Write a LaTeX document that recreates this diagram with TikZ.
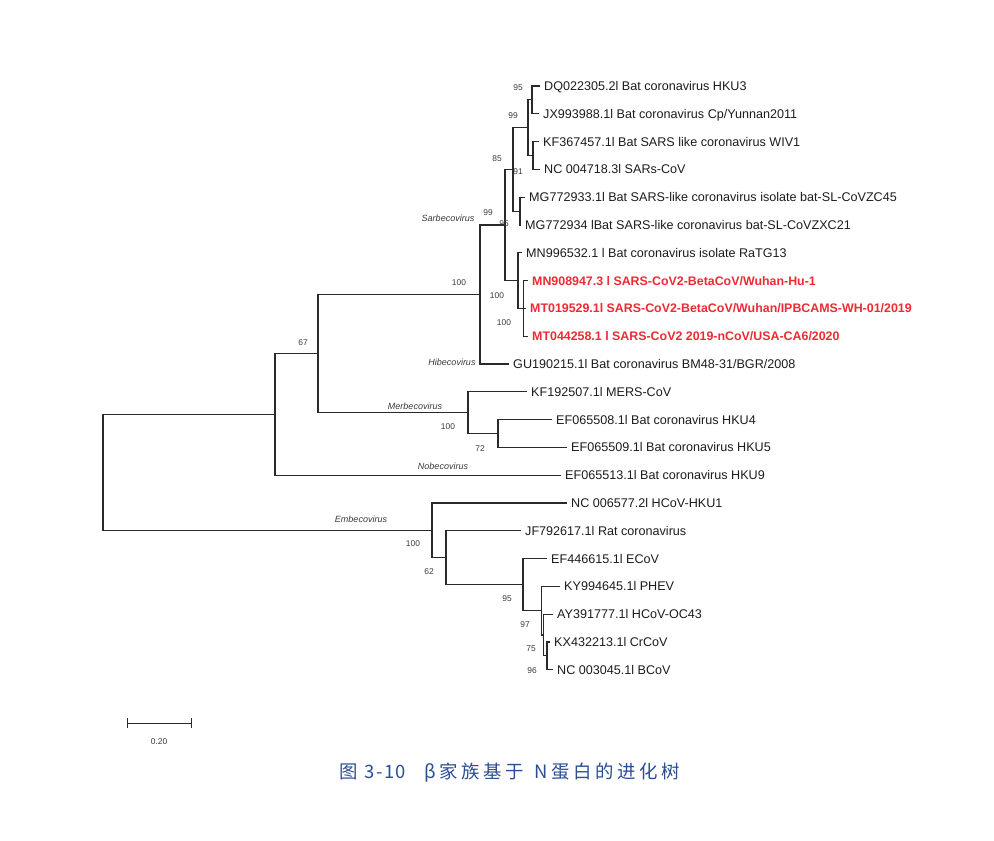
\documentclass[tikz,border=0pt]{standalone}
\usepackage{fontspec}
\setmainfont{Liberation Sans}
\newfontfamily\capfont{Noto Sans CJK SC}[LetterSpace=20]
\usepackage{xcolor}
\usepackage{tikz}
\usetikzlibrary{positioning}
\definecolor{ptInk}{HTML}{2A2A2A}
\definecolor{ptText}{HTML}{1C1C1C}
\definecolor{ptMuted}{HTML}{3A3A3A}
\definecolor{ptRed}{HTML}{EC2B33}
\definecolor{ptBlue}{HTML}{2B4D94}
\tikzset{
  pt tree/.style={x=1pt, y=-1pt, text=ptText,
    font=\fontsize{12.6}{14}\selectfont},
  pt branch/.style={draw=ptInk, line width=1.1pt, line cap=rect},
  pt leaf/.style={anchor=west, inner xsep=5pt, inner ysep=0pt,
    text height=9pt, text depth=0pt},
  pt key leaf/.style={pt leaf, text=ptRed,
    font=\fontsize{12.4}{14}\selectfont\bfseries},
  pt support/.style={font=\fontsize{8.4}{10}\selectfont, text=ptMuted,
    inner sep=0pt},
  pt clade/.style={pt support, font=\fontsize{9}{10}\selectfont\itshape},
  pt caption/.style={font=\capfont\fontsize{18.4}{20}\selectfont,
    text=ptBlue, inner sep=0pt}
}
\begin{document}
\begin{tikzpicture}[pt tree]
\useasboundingbox (0,0) rectangle (994,841);
% leaves
\node[pt leaf] (hku3) at (539,86) {DQ022305.2l Bat coronavirus HKU3};
\node[pt leaf] (cpyn) at (538,113.8) {JX993988.1l Bat coronavirus Cp/Yunnan2011};
\node[pt leaf] (wiv1) at (538,141.6) {KF367457.1l Bat SARS like coronavirus WIV1};
\node[pt leaf] (sars) at (539,169.4) {NC 004718.3l SARs-CoV};
\node[pt leaf] (zc45) at (524,197.2) {MG772933.1l Bat SARS-like coronavirus isolate bat-SL-CoVZC45};
\node[pt leaf] (zxc21) at (520,225) {MG772934 lBat SARS-like coronavirus bat-SL-CoVZXC21};
\node[pt leaf] (ratg13) at (521,252.8) {MN996532.1 l Bat coronavirus isolate RaTG13};
\node[pt key leaf] (wuhan1) at (527,280.6) {MN908947.3 l SARS-CoV2-BetaCoV/Wuhan-Hu-1};
\begin{scope}
\clip (0,0) rectangle (916,841);
\node[pt key leaf] (wh01) at (525,308.4) {MT019529.1l SARS-CoV2-BetaCoV/Wuhan/IPBCAMS-WH-01/2019};
\end{scope}
\node[pt key leaf] (ca6) at (527,336.2) {MT044258.1 l SARS-CoV2 2019-nCoV/USA-CA6/2020};
\node[pt leaf] (bm48) at (508,364) {GU190215.1l Bat coronavirus BM48-31/BGR/2008};
\node[pt leaf] (mers) at (526,391.8) {KF192507.1l MERS-CoV};
\node[pt leaf] (hku4) at (551,419.6) {EF065508.1l Bat coronavirus HKU4};
\node[pt leaf] (hku5) at (566,447.4) {EF065509.1l Bat coronavirus HKU5};
\node[pt leaf] (hku9) at (560,475.2) {EF065513.1l Bat coronavirus HKU9};
\node[pt leaf] (hku1) at (566,503) {NC 006577.2l HCoV-HKU1};
\node[pt leaf] (rat) at (520,530.8) {JF792617.1l Rat coronavirus};
\node[pt leaf] (ecov) at (546,558.6) {EF446615.1l ECoV};
\node[pt leaf] (phev) at (559,586.4) {KY994645.1l PHEV};
\node[pt leaf] (oc43) at (552,614.2) {AY391777.1l HCoV-OC43};
\node[pt leaf] (crcov) at (549,642) {KX432213.1l CrCoV};
\node[pt leaf] (bcov) at (552,669.8) {NC 003045.1l BCoV};
% inner nodes of the tree
\coordinate (cppair) at (532,99.9);
\coordinate (wivpair) at (533,155.5);
\coordinate (sarsgrp) at (528,127.7);
\coordinate (zcpair) at (520,211.1);
\coordinate (batsl) at (513,169.4);
\coordinate (cov2) at (523.5,308.4);
\coordinate (ratg) at (518,280.6);
\coordinate (sarbcore) at (505,225);
\coordinate (sarbeco) at (480,294.5);
\coordinate (hkupair) at (498,433.5);
\coordinate (merbeco) at (468,412.7);
\coordinate (core) at (318,353.6);
\coordinate (main) at (275,414.4);
\coordinate (crpair) at (547,655.9);
\coordinate (ocgrp) at (543.5,635);
\coordinate (phevgrp) at (541.5,610.7);
\coordinate (ecovgrp) at (523,584.7);
\coordinate (ratgrp) at (446,557.7);
\coordinate (embeco) at (432,530.4);
\coordinate (root) at (103,472.4);
\foreach \parent/\child in {cppair/hku3.west, cppair/cpyn.west,
    wivpair/wiv1.west, wivpair/sars.west, sarsgrp/cppair, sarsgrp/wivpair,
    zcpair/zc45.west, zcpair/zxc21.west, batsl/sarsgrp, batsl/zcpair,
    cov2/wuhan1.west, cov2/wh01.west, cov2/ca6.west, ratg/ratg13.west, ratg/cov2,
    sarbcore/batsl, sarbcore/ratg, sarbeco/sarbcore, sarbeco/bm48.west,
    hkupair/hku4.west, hkupair/hku5.west, merbeco/mers.west, merbeco/hkupair,
    core/sarbeco, core/merbeco, main/core, main/hku9.west,
    crpair/crcov.west, crpair/bcov.west, ocgrp/oc43.west, ocgrp/crpair,
    phevgrp/phev.west, phevgrp/ocgrp, ecovgrp/ecov.west, ecovgrp/phevgrp,
    ratgrp/rat.west, ratgrp/ecovgrp, embeco/hku1.west, embeco/ratgrp,
    root/main, root/embeco}
  \draw[pt branch] (\parent) |- (\child);
% bootstrap values
\foreach \x/\y/\val [count=\i] in {518/88/95, 513/116/99, 497/159/85, 518/172/91,
    488/213/99, 504/224/95, 459/283/100, 497/296/100, 504/323/100, 303/343/67,
    448/427/100, 480/449/72, 413/544/100, 429/572/62, 507/599/95, 525/625/97,
    531/649/75, 532/671/96}
  \node[pt support] (boot\i) at (\x,\y) {\val};
% genus labels
\node[pt clade] (sarbecolabel) at (448,218) {Sarbecovirus};
\node[pt clade] (hibecolabel) at (452,362) {Hibecovirus};
\node[pt clade] (merbecolabel) at (415,406) {Merbecovirus};
\node[pt clade] (nobecolabel) at (443,466) {Nobecovirus};
\node[pt clade] (embecolabel) at (361,519) {Embecovirus};
% scale bar
\coordinate (barleft) at (127,723);
\coordinate (barright) at (191,723);
\coordinate (barmid) at (159,723);
\draw[pt branch, line width=0.9pt] (barleft) -- (barright);
\draw[pt branch, line width=0.9pt] ([yshift=5pt]barleft) -- ([yshift=-5pt]barleft);
\draw[pt branch, line width=0.9pt] ([yshift=5pt]barright) -- ([yshift=-5pt]barright);
\node[pt support, below=15pt of barmid] (barlabel) {0.20};
% caption
\node[pt caption] (caption) at (510,773) {图\hspace{6pt}3\hspace{2pt}-\hspace{2pt}1\hspace{1pt}0\hspace{18pt}β家族基于\hspace{10pt}N\hspace{4pt}蛋白的进化树};
\end{tikzpicture}
\end{document}
